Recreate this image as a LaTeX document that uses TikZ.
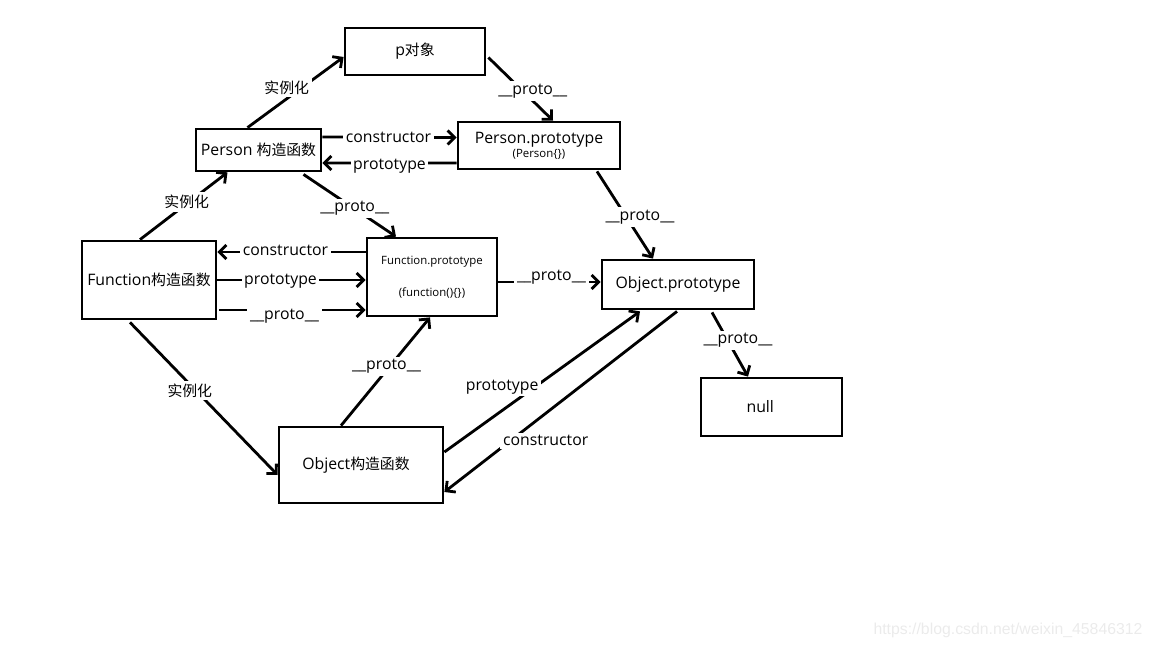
\documentclass[tikz,border=0pt]{standalone}
\usepackage{fontspec}
\setmainfont{Open Sans}
\newfontfamily\cjk[Scale=0.94]{Noto Sans CJK SC}
\newfontfamily\wmfont{Liberation Sans}
\usetikzlibrary{arrows.meta,calc}
\newcommand{\zh}[1]{{\cjk #1}}
\newcommand{\smalltxt}{\fontsize{6.5}{7.5}\selectfont}

\tikzset{
  box/.style={draw, line width=1.6pt, inner sep=0pt, align=center},
  link/.style={line width=1.6pt, -{Straight Barb[length=4pt,width=8pt]}},
  lbl/.style={fill=white, inner sep=1.5pt},
}

\begin{document}
\begin{tikzpicture}[x=0.02cm, y=-0.02cm, font=\fontsize{9}{11}\selectfont]
  \useasboundingbox (0,0) rectangle (1152,648);

  % boxes
  \node[box, minimum width=2.8cm, minimum height=0.94cm] (p) at (415,51.5) {\raisebox{-2pt}{p\zh{对象}}};
  \node[box, minimum width=2.5cm, minimum height=0.84cm] (person) at (258.5,150) {\raisebox{-1pt}{Person \zh{构造函数}}};
  \node[box, minimum width=3.24cm, minimum height=0.94cm] (pproto) at (539,145.5)
    {\raisebox{-2pt}{Person.prototype}\\[-1pt]{\smalltxt (Person\{\})}};
  \node[box, minimum width=2.68cm, minimum height=1.56cm] (func) at (149,280) {Function\zh{构造函数}};
  \node[box, minimum width=2.6cm, minimum height=1.56cm] (fproto) at (432,277)
    {\smalltxt Function.prototype\\[7pt]\smalltxt (function()\{\})};
  \node[box, minimum width=3.04cm, minimum height=0.98cm] (oproto) at (678,284.5) {\raisebox{-1pt}{Object.prototype}};
  \node[box, minimum width=2.82cm, minimum height=1.16cm] (null) at (771.5,407) {\raisebox{-1pt}{null}\hspace*{0.45cm}};
  \node[box, minimum width=3.28cm, minimum height=1.52cm] (obj) at (361,465) {\raisebox{-1pt}{Object\zh{构造函数}}\hspace*{0.2cm}};

  % Person
  \draw[link] ($(person.north)+(-11,0)$) -- node[lbl, pos=0.45, shift={(-4,-8)}] {\zh{实例化}} ($(p.west)+(0,5.5)$);
  \draw[link] ($(p.east)+(2,6)$) -- node[lbl, shift={(12,2)}] {\_\_proto\_\_} ($(pproto.north)+(14,0)$);
  \draw[link] ($(person.east)+(0,-13)$) -- node[lbl, shift={(-1,0)}] {constructor} ($(pproto.west)+(0,-8)$);
  \draw[link] ($(pproto.west)+(0,17.5)$) -- node[lbl, shift={(0,3)}] {prototype} ($(person.east)+(0,13)$);
  \draw[link] ($(person.south)+(45,2)$) -- node[lbl, shift={(5,3)}] {\_\_proto\_\_} ($(fproto.north)+(-36,0)$);

  % Function
  \draw[link] ($(func.north)+(-9,0)$) -- node[lbl, shift={(3,-4)}] {\zh{实例化}} ($(person.south)+(-31,0)$);
  \draw[link] ($(fproto.west)+(0,-25)$) -- node[lbl, shift={(-6,-2)}] {constructor} ($(func.east)+(0,-28)$);
  \draw[link] (func.east) -- node[lbl, shift={(-11,1)}] {prototype} ($(fproto.west)+(0,3)$);
  \draw[link] ($(func.east)+(2,30)$) -- node[lbl, shift={(-8,6)}] {\_\_proto\_\_} ($(fproto.west)+(0,33)$);
  \draw[link] ($(func.south)+(-19,2)$) -- node[lbl, shift={(-14,-8)}] {\zh{实例化}} ($(obj.west)+(0,10)$);

  % prototypes
  \draw[link] ($(fproto.east)+(0,5)$) -- node[lbl, shift={(2,-5)}] {\_\_proto\_\_} ($(oproto.west)+(0,-2.5)$);
  \draw[link] ($(pproto.south)+(58,1)$) -- node[lbl, shift={(15,2)}] {\_\_proto\_\_} ($(oproto.north)+(-25,0)$);
  \draw[link] ($(oproto.south)+(34,2)$) -- node[lbl, shift={(8,-4)}] {\_\_proto\_\_} ($(null.north)+(-23.5,0)$);

  % Object
  \draw[link] ($(obj.north)+(-20,0)$) -- node[lbl, shift={(1,-5)}] {\_\_proto\_\_} ($(fproto.south)+(-2,0)$);
  \draw[link] ($(obj.east)+(0,-13)$) -- node[lbl, shift={(-40,5)}] {prototype} ($(oproto.south)+(-38,1)$);
  \draw[link] ($(oproto.south)+(-1,1)$) -- node[lbl, shift={(-15,39)}] {constructor} ($(obj.east)+(0,27)$);

  % watermark
  \node[text=black!8, font=\wmfont\fontsize{9}{10}\selectfont] (mark) at (1008,630) {https://blog.csdn.net/weixin\_45846312};
\end{tikzpicture}
\end{document}
